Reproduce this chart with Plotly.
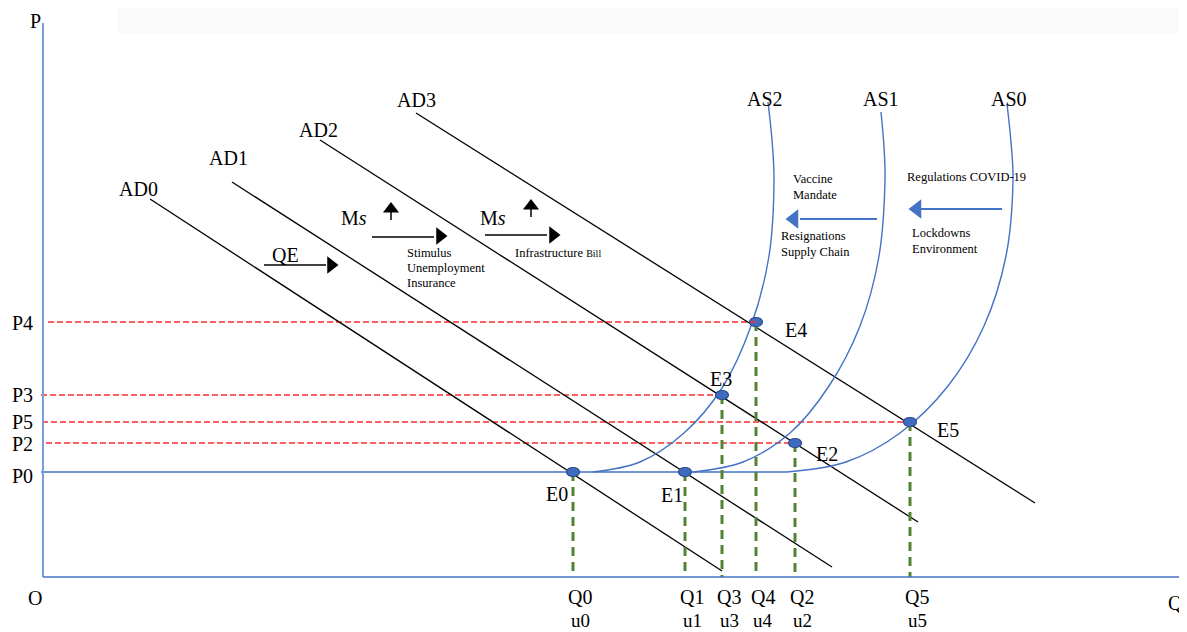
import plotly.graph_objects as go

# ---------------- data (Q = quantity, P = price level) ----------------
price_labels = ["P0", "P2", "P5", "P3", "P4"]
price_levels = [105, 134, 155, 182, 255]

qty_labels = ["Q0", "Q1", "Q3", "Q4", "Q2", "Q5"]
unemp_labels = ["u0", "u1", "u3", "u4", "u2", "u5"]
qty_levels = [530, 642, 679, 713, 752, 867]

eq_labels = ["E0", "E1", "E3", "E4", "E2", "E5"]
eq_q = [530, 642, 679, 713, 752, 867]
eq_p = [105, 105, 182, 255, 134, 155]

# red guide lines: (start Q, end Q, P)
guide_p = [255, 182, 155, 134]
guide_q0 = [5, -2, -1, 3]
guide_q1 = [714, 679, 867, 752]

# aggregate demand lines (two end points each)
ad_names = ["AD0", "AD1", "AD2", "AD3"]
ad_q = [[107, 679], [189, 789], [277, 875], [373, 992]]
ad_p = [[378, 6], [395, 10], [437, 55], [464, 74]]

# aggregate supply curves
as_names = ["AS2", "AS1", "AS0"]
as_q = [
    [550, 597, 641, 679, 708, 726, 731, 729, 725],
    [650, 700, 747, 786, 817, 836, 842, 841, 838],
    [744, 803, 857, 905, 941, 963, 970, 968, 964],
]
as_p = [
    [105, 115, 144, 189, 251, 321, 397, 437, 475],
    [105, 115, 144, 191, 251, 321, 397, 430, 465],
    [105, 115, 144, 191, 251, 321, 397, 435, 473],
]
p0_line_q = [-2, 744]

# ---------------- figure ----------------
BLUE = "#4472C4"
RED = "#FF2A2A"
GREEN = "#548235"
SERIF = "Liberation Serif, Times New Roman, serif"

fig = go.Figure()

# red dashed price guides
for q0, q1, p in zip(guide_q0, guide_q1, guide_p):
    fig.add_trace(go.Scatter(x=[q0, q1], y=[p, p], mode="lines",
                             line=dict(color=RED, width=1.4, dash="6px,3px"),
                             hoverinfo="skip", showlegend=False))

# P0 flat line
fig.add_trace(go.Scatter(x=p0_line_q, y=[price_levels[0]] * 2, mode="lines",
                         line=dict(color=BLUE, width=1.5),
                         hoverinfo="skip", showlegend=False))

# AD lines
for name, qs, ps in zip(ad_names, ad_q, ad_p):
    fig.add_trace(go.Scatter(x=qs, y=ps, mode="lines",
                             line=dict(color="black", width=1.3),
                             name=name, hoverinfo="skip", showlegend=False))

# AS curves
for name, qs, ps in zip(as_names, as_q, as_p):
    fig.add_trace(go.Scatter(x=qs, y=ps, mode="lines",
                             line=dict(color=BLUE, width=1.4, shape="spline", smoothing=1.0),
                             name=name, hoverinfo="skip", showlegend=False))

# green dashed verticals
for q, p in zip(eq_q, eq_p):
    fig.add_trace(go.Scatter(x=[q, q], y=[p, 0], mode="lines",
                             line=dict(color=GREEN, width=3, dash="9px,6px"),
                             hoverinfo="skip", showlegend=False))

# axes
fig.add_trace(go.Scatter(x=[0, 0], y=[0, 554], mode="lines",
                         line=dict(color="#7A9EDB", width=2),
                         hoverinfo="skip", showlegend=False))
fig.add_trace(go.Scatter(x=[0, 1144], y=[0, 0], mode="lines",
                         line=dict(color=BLUE, width=1.5),
                         hoverinfo="skip", showlegend=False))

# black arrows (monetary / fiscal shifts)
for xs, y in [([221, 283], 312), ([329, 391], 340), ([442, 504], 342)]:
    fig.add_trace(go.Scatter(x=xs, y=[y, y], mode="lines",
                             line=dict(color="black", width=1.6),
                             hoverinfo="skip", showlegend=False))
fig.add_trace(go.Scatter(x=[288, 397, 510], y=[312, 341, 342], mode="markers",
                         marker=dict(symbol="triangle-right", size=15, color="black"),
                         hoverinfo="skip", showlegend=False))
for x, ys in [(348, [357, 366]), (488, [360, 369])]:
    fig.add_trace(go.Scatter(x=[x, x], y=ys, mode="lines",
                             line=dict(color="black", width=1.5),
                             hoverinfo="skip", showlegend=False))
fig.add_trace(go.Scatter(x=[348, 488], y=[368, 371], mode="markers",
                         marker=dict(symbol="triangle-up", size=14, color="black"),
                         hoverinfo="skip", showlegend=False))

# blue arrows (supply shifts)
for xs, y in [([959, 878], 368), ([834, 757], 358)]:
    fig.add_trace(go.Scatter(x=xs, y=[y, y], mode="lines",
                             line=dict(color=BLUE, width=2),
                             hoverinfo="skip", showlegend=False))
fig.add_trace(go.Scatter(x=[874, 751], y=[368, 358], mode="markers",
                         marker=dict(symbol="triangle-left", size=17, color=BLUE),
                         hoverinfo="skip", showlegend=False))

# equilibrium points as small ellipses
shapes = []
for q, p in zip(eq_q, eq_p):
    shapes.append(dict(type="circle", xref="x", yref="y",
                       x0=q - 6.5, x1=q + 6.5, y0=p - 4.5, y1=p + 4.5,
                       fillcolor="#3F6CC0", line=dict(color="#2B4C8C", width=1.2),
                       layer="above"))
# red guide passes over E4
shapes.append(dict(type="line", xref="x", yref="y", x0=eq_q[3] - 6, x1=eq_q[3] + 1,
                   y0=eq_p[3], y1=eq_p[3], line=dict(color=RED, width=1.4, dash="6px,3px"),
                   layer="above"))

FIG_W, FIG_H = 1179, 624
# faint band at top
shapes.append(dict(type="rect", xref="paper", yref="paper",
                   x0=109 / FIG_W, x1=1, y0=1 - 25 / FIG_H, y1=1,
                   fillcolor="#FAFAFA", line=dict(width=0), layer="below"))

annotations = []


def txt(x, y, s, size=20, xanchor="center", yanchor="middle"):
    annotations.append(dict(x=x, y=y, xref="x", yref="y", text=s, showarrow=False,
                            xanchor=xanchor, yanchor=yanchor,
                            font=dict(family=SERIF, size=size, color="black")))


# axis letters
txt(-8, 556, "P")
txt(-8, -21, "O")
txt(1132, -26, "Q")

# price labels
price_label_y = {"P0": 101, "P2": 133, "P5": 155, "P3": 182, "P4": 254}
for lab in price_labels:
    txt(-21, price_label_y[lab], lab)

# quantity / unemployment labels
for lab, ul, q in zip(qty_labels, unemp_labels, qty_levels):
    txt(q + 7, -20, lab)
    txt(q + 7, -43, ul, size=19)

# equilibrium labels
eq_label_pos = {"E0": (514, 83), "E1": (629, 82), "E3": (678, 198),
                "E4": (753, 247), "E2": (784, 123), "E5": (905, 147)}
for lab in eq_labels:
    x, y = eq_label_pos[lab]
    txt(x, y, lab)

# curve labels
ad_label_pos = [(95, 388), (185, 419), (275, 447), (373, 477)]
for name, (x, y) in zip(ad_names, ad_label_pos):
    txt(x, y, name)
as_label_pos = [(722, 478), (838, 478), (966, 478)]
for name, (x, y) in zip(as_names, as_label_pos):
    txt(x, y, name)

txt(242, 322, "QE")
txt(311, 359, "M<i>s</i>")
txt(450, 359, "M<i>s</i>")

# small explanatory notes
SMALL = 12.5
txt(362, 324, "Stimulus", SMALL, xanchor="left")
txt(362, 309, "Unemployment", SMALL, xanchor="left")
txt(362, 294, "Insurance", SMALL, xanchor="left")
txt(470, 324, "Infrastructure <span style='font-size:10px'>Bill</span>", SMALL, xanchor="left")
txt(748, 398, "Vaccine", SMALL, xanchor="left")
txt(748, 382, "Mandate", SMALL, xanchor="left")
txt(736, 341, "Resignations", SMALL, xanchor="left")
txt(736, 325, "Supply Chain", SMALL, xanchor="left")
txt(862, 400, "Regulations COVID-19", SMALL, xanchor="left")
txt(867, 344, "Lockdowns", SMALL, xanchor="left")
txt(867, 328, "Environment", SMALL, xanchor="left")

# the page places the figure 8px from the top-left corner; ranges account for that
fig.update_layout(
    width=FIG_W, height=FIG_H,
    margin=dict(l=0, r=0, t=0, b=0),
    paper_bgcolor="white", plot_bgcolor="white",
    xaxis=dict(range=[-35, 1144], visible=False, fixedrange=True),
    yaxis=dict(range=[-55, 569], visible=False, fixedrange=True),
    shapes=shapes, annotations=annotations,
    showlegend=False,
)

fig.write_html("out.html")
